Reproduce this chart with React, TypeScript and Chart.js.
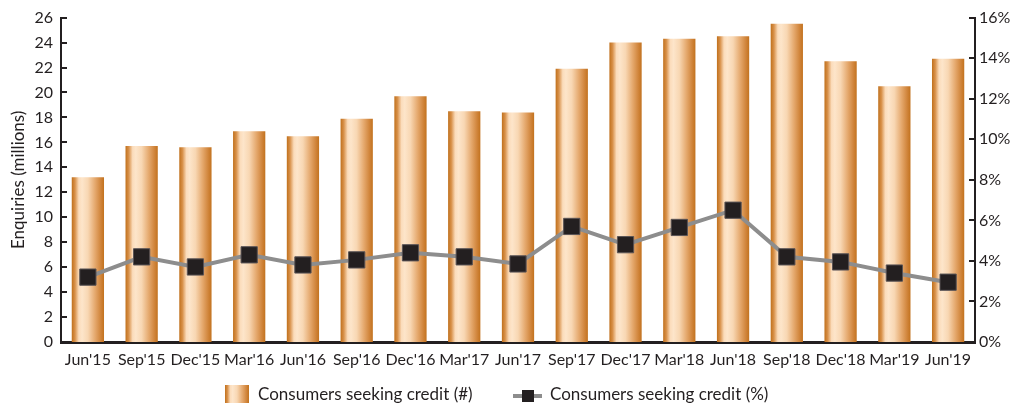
import React, { useEffect, useRef } from "react";
import { Chart, registerables } from "chart.js";

Chart.register(...registerables);

const categories = ["Jun'15", "Sep'15", "Dec'15", "Mar'16", "Jun'16", "Sep'16", "Dec'16", "Mar'17", "Jun'17", "Sep'17", "Dec'17", "Mar'18", "Jun'18", "Sep'18", "Dec'18", "Mar'19", "Jun'19"];
const enquiriesMillions = [13.2, 15.7, 15.6, 16.9, 16.5, 17.9, 19.7, 18.5, 18.4, 21.9, 24.0, 24.3, 24.5, 25.5, 22.5, 20.5, 22.7];
const seekingCreditPct = [3.2, 4.2, 3.7, 4.3, 3.8, 4.05, 4.4, 4.2, 3.85, 5.7, 4.8, 5.65, 6.5, 4.2, 3.95, 3.4, 2.95];
const leftAxisMax = 26;
const leftAxisStep = 2;
const rightAxisMax = 16;
const rightAxisStep = 2;
const barLabel = "Consumers seeking credit (#)";
const lineLabel = "Consumers seeking credit (%)";
const yTitle = "Enquiries (millions)";

const INK = "#231f20";
const FONT = "Lato";

const gradientStops: [number, string][] = [
  [0, "#c0701c"],
  [0.1, "#d8914a"],
  [0.22, "#fbdcbb"],
  [0.32, "#fde5ca"],
  [0.5, "#f8d7b3"],
  [0.72, "#e5a96e"],
  [0.9, "#d0843a"],
  [1, "#c2721e"],
];

const inwardTicks = {
  id: "inwardTicks",
  afterDraw(chart: any) {
    const ctx = chart.ctx;
    const y = chart.scales.y;
    const y1 = chart.scales.y1;
    ctx.save();
    ctx.strokeStyle = INK;
    ctx.lineWidth = 2;
    y.ticks.forEach((t: any) => {
      const py = Math.round(y.getPixelForValue(t.value));
      ctx.beginPath();
      ctx.moveTo(y.right, py);
      ctx.lineTo(y.right + 6, py);
      ctx.stroke();
    });
    y1.ticks.forEach((t: any) => {
      const py = Math.round(y1.getPixelForValue(t.value));
      ctx.beginPath();
      ctx.moveTo(y1.left - 6, py);
      ctx.lineTo(y1.left + 1, py);
      ctx.stroke();
    });
    ctx.restore();
  },
};

export default function App() {
  const ref = useRef<HTMLCanvasElement | null>(null);

  useEffect(() => {
    if (!ref.current) return;
    const chart = new Chart(ref.current, {
      type: "bar",
      data: {
        labels: categories,
        datasets: [
          {
            type: "line",
            label: lineLabel,
            data: seekingCreditPct,
            yAxisID: "y1",
            borderColor: "#8d8d8d",
            borderWidth: 4,
            pointStyle: "rect",
            pointRadius: 11.5,
            pointHoverRadius: 11.5,
            pointBackgroundColor: INK,
            pointBorderColor: "#5a5456",
            pointBorderWidth: 1,
            tension: 0,
            order: 0,
          } as any,
          {
            type: "bar",
            label: barLabel,
            data: enquiriesMillions,
            yAxisID: "y",
            barPercentage: 0.6,
            categoryPercentage: 1,
            borderWidth: 0,
            order: 1,
            backgroundColor: (c: any) => {
              const ch = c.chart;
              const xs = ch.scales && ch.scales.x;
              if (!xs || c.dataIndex == null) return "#e3a567";
              const cx = xs.getPixelForValue(c.dataIndex);
              const w = (xs.width / categories.length) * 0.6;
              if (!isFinite(cx) || !isFinite(w) || w <= 0) return "#e3a567";
              const g = ch.ctx.createLinearGradient(cx - w / 2, 0, cx + w / 2, 0);
              gradientStops.forEach(([o, col]) => g.addColorStop(o, col));
              return g;
            },
          } as any,
        ],
      },
      options: {
        responsive: false,
        animation: false,
        events: [],
        layout: { padding: { top: 17, left: 0, right: 0, bottom: 0 } },
        plugins: {
          legend: { display: false },
          tooltip: { enabled: false },
        },
        scales: {
          x: {
            offset: true,
            grid: { display: false, drawTicks: false },
            border: { display: true, color: INK, width: 3 },
            ticks: {
              color: INK,
              font: { family: FONT, size: 16 },
              padding: 8,
              maxRotation: 0,
              autoSkip: false,
            },
            afterFit: (s: any) => {
              s.height = 403 - 342;
            },
          },
          y: {
            position: "left",
            min: 0,
            max: leftAxisMax,
            grid: { display: false, drawTicks: false },
            border: { display: true, color: INK, width: 2 },
            ticks: {
              stepSize: leftAxisStep,
              color: INK,
              font: { family: FONT, size: 16 },
              padding: 8,
            },
            title: {
              display: true,
              text: yTitle,
              color: INK,
              font: { family: FONT, size: 17 },
              padding: { top: 8, bottom: 0 },
            },
            afterFit: (s: any) => {
              s.width = 61;
            },
          },
          y1: {
            position: "right",
            min: 0,
            max: rightAxisMax,
            grid: { display: false, drawTicks: false },
            border: { display: true, color: INK, width: 2 },
            ticks: {
              stepSize: rightAxisStep,
              color: INK,
              font: { family: FONT, size: 16 },
              padding: 4,
              callback: (v: any) => `${v}%`,
            },
            afterFit: (s: any) => {
              s.width = 1011 - 975;
            },
          },
        },
      },
      plugins: [inwardTicks],
    });
    return () => chart.destroy();
  }, []);

  const swatchGradient =
    "linear-gradient(to right, " + gradientStops.map(([o, c]) => `${c} ${o * 100}%`).join(", ") + ")";

  return (
    <div style={{ position: "fixed", left: 0, top: 0, width: 1011, height: 403, background: "#fff", overflow: "hidden" }}>
      <canvas ref={ref} width={1011} height={403} style={{ position: "absolute", left: 0, top: 0 }} />
      <div style={{ position: "absolute", left: 225, top: 385, width: 24, height: 30, background: swatchGradient }} />
      <span style={{ position: "absolute", left: 258, top: 385, fontFamily: FONT, fontSize: 17, lineHeight: "18px", color: INK, whiteSpace: "nowrap" }}>
        {barLabel}
      </span>
      <div style={{ position: "absolute", left: 513, top: 394, width: 29, height: 4, background: "#8d8d8d" }} />
      <div style={{ position: "absolute", left: 522, top: 390, width: 12, height: 12, background: INK }} />
      <span style={{ position: "absolute", left: 550, top: 385, fontFamily: FONT, fontSize: 17, lineHeight: "18px", color: INK, whiteSpace: "nowrap" }}>
        {lineLabel}
      </span>
    </div>
  );
}
